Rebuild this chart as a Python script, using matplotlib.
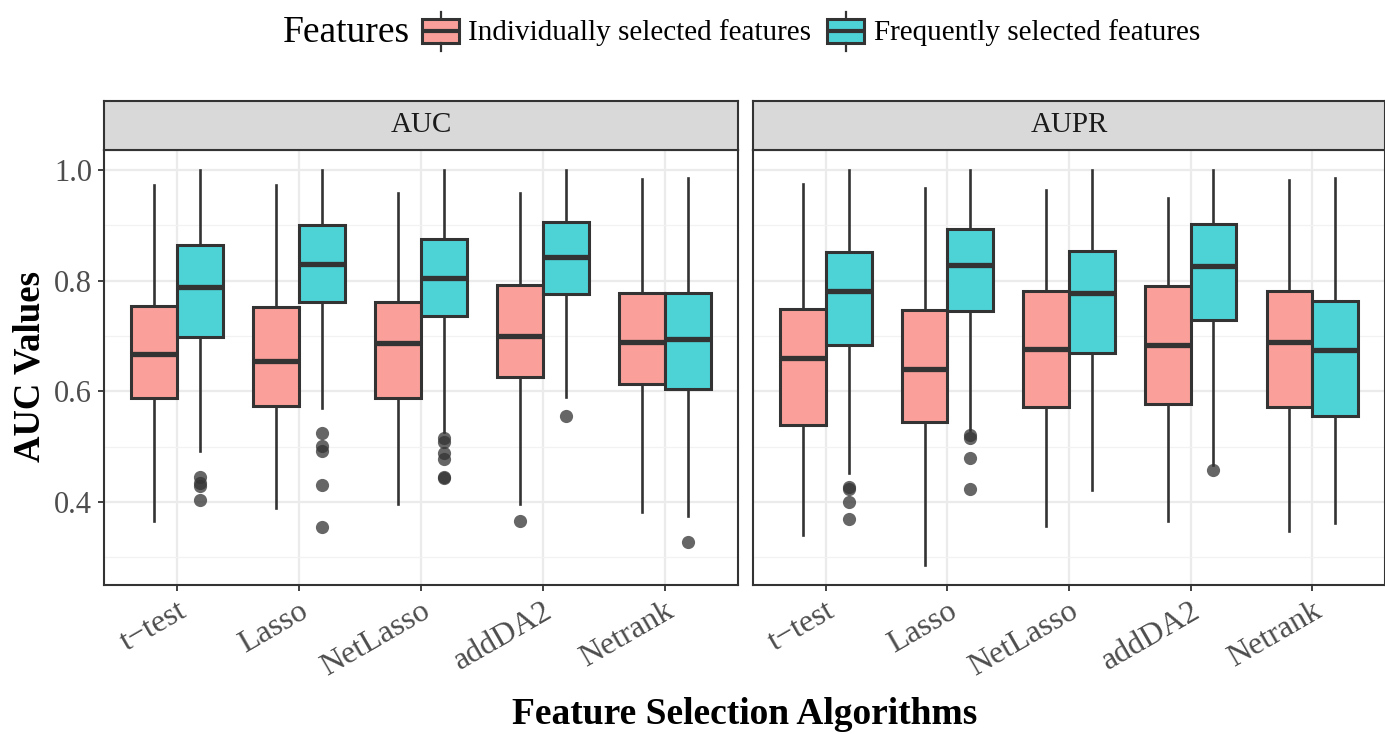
import matplotlib
matplotlib.use("Agg")
import matplotlib.pyplot as plt
from matplotlib.patches import Rectangle
from matplotlib.ticker import FixedLocator

plt.rcParams['font.family'] = ['Liberation Serif', 'DejaVu Serif']

algorithms = ["t\u2212test", "Lasso", "NetLasso", "addDA2", "Netrank"]
groups = ["Individually selected features", "Frequently selected features"]
metrics = ["AUC", "AUPR"]

# per metric, per group: lists over algorithms of (whislo, q1, med, q3, whishi)
auc_individual = [
    (0.365, 0.587, 0.668, 0.755, 0.973),
    (0.389, 0.574, 0.654, 0.753, 0.973),
    (0.397, 0.587, 0.687, 0.762, 0.959),
    (0.397, 0.625, 0.700, 0.792, 0.959),
    (0.382, 0.613, 0.689, 0.777, 0.984),
]
auc_frequent = [
    (0.493, 0.699, 0.788, 0.865, 1.000),
    (0.569, 0.762, 0.830, 0.901, 1.000),
    (0.527, 0.736, 0.804, 0.875, 1.000),
    (0.589, 0.776, 0.842, 0.906, 1.000),
    (0.375, 0.604, 0.695, 0.778, 0.986),
]
aupr_individual = [
    (0.341, 0.539, 0.660, 0.748, 0.974),
    (0.286, 0.545, 0.640, 0.747, 0.968),
    (0.357, 0.572, 0.676, 0.782, 0.964),
    (0.365, 0.577, 0.683, 0.791, 0.949),
    (0.348, 0.571, 0.689, 0.782, 0.981),
]
aupr_frequent = [
    (0.452, 0.683, 0.781, 0.852, 1.000),
    (0.530, 0.745, 0.828, 0.893, 1.000),
    (0.422, 0.669, 0.777, 0.854, 1.000),
    (0.467, 0.729, 0.827, 0.902, 1.000),
    (0.362, 0.556, 0.675, 0.763, 0.985),
]
auc_individual_out = [[], [], [], [0.365], []]
auc_frequent_out = [[0.445, 0.435, 0.428, 0.403],
                    [0.524, 0.501, 0.493, 0.430, 0.354],
                    [0.515, 0.508, 0.488, 0.477, 0.445, 0.443],
                    [0.556],
                    [0.328]]
aupr_individual_out = [[], [], [], [], []]
aupr_frequent_out = [[0.427, 0.424, 0.400, 0.369],
                     [0.521, 0.516, 0.480, 0.424],
                     [],
                     [0.458],
                     []]

data = {
    "AUC": [(auc_individual, auc_individual_out), (auc_frequent, auc_frequent_out)],
    "AUPR": [(aupr_individual, aupr_individual_out), (aupr_frequent, aupr_frequent_out)],
}

fills = ["#FA9F99", "#4DD2D6"]
edge = "#333333"
W, H = 1385, 734
fig = plt.figure(figsize=(W / 100, H / 100), dpi=100)

def fx(px):
    return px / W

def fy(py):
    return 1 - py / H

panels = [(104, 738), (753, 1385)]
ptop, pbot = 150, 585
strip_top = 101

for m, (x0, x1) in zip(metrics, panels):
    ax = fig.add_axes([fx(x0), fy(pbot), fx(x1 - x0), (pbot - ptop) / H])
    sax = fig.add_axes([fx(x0), fy(ptop), fx(x1 - x0), (ptop - strip_top) / H])
    sax.set_xticks([]); sax.set_yticks([])
    sax.set_facecolor("#D9D9D9")
    for s in sax.spines.values():
        s.set_color(edge); s.set_linewidth(1.5)
    sax.text(0.5, 0.5, m, ha="center", va="center", fontsize=21, color="#1A1A1A",
             transform=sax.transAxes)

    n = len(algorithms)
    for gi, (stats, outs) in enumerate(data[m]):
        bstats = []
        for (lo, q1, med, q3, hi), fl in zip(stats, outs):
            bstats.append(dict(whislo=lo, q1=q1, med=med, q3=q3, whishi=hi, fliers=fl))
        off = -0.1875 if gi == 0 else 0.1875
        ax.bxp(bstats, positions=[i + 1 + off for i in range(n)], widths=0.375,
               showcaps=False, patch_artist=True,
               boxprops=dict(facecolor=fills[gi], edgecolor=edge, linewidth=2.2),
               medianprops=dict(color=edge, linewidth=3.8, solid_capstyle="butt"),
               whiskerprops=dict(color=edge, linewidth=1.9),
               flierprops=dict(marker="o", markersize=9.5, markerfacecolor=edge,
                               markeredgecolor="none", alpha=0.75),
               zorder=3)

    ax.set_xlim(0.4, n + 0.6)
    ax.set_ylim(0.250, 1.036)
    ax.set_xticks(range(1, n + 1))
    ax.set_xticklabels(algorithms, rotation=30, ha="right", va="top",
                       rotation_mode="anchor", fontsize=23, color="#4D4D4D")
    ax.yaxis.set_major_locator(FixedLocator([0.4, 0.6, 0.8, 1.0]))
    ax.yaxis.set_minor_locator(FixedLocator([0.3, 0.5, 0.7, 0.9]))
    if m == "AUC":
        ax.set_yticklabels(["0.4", "0.6", "0.8", "1.0"], fontsize=22, color="#4D4D4D")
    else:
        ax.set_yticklabels([])
    ax.tick_params(axis="both", which="major", length=4.5, width=1.3, color=edge, pad=4)
    ax.tick_params(axis="y", which="minor", length=0)
    if m == "AUPR":
        ax.tick_params(axis="y", which="major", length=0)
    ax.grid(True, which="major", color="#EBEBEB", linewidth=1.6, zorder=0)
    ax.grid(True, which="minor", axis="y", color="#F2F2F2", linewidth=0.9, zorder=0)
    ax.set_axisbelow(True)
    for s in ax.spines.values():
        s.set_color(edge); s.set_linewidth(1.5)

fig.text(fx(30), fy(367), "AUC Values", rotation=90, ha="center", va="center",
         fontsize=26.5, fontweight="bold", color="black")
fig.text(fx(745), fy(714), "Feature Selection Algorithms", ha="center", va="center",
         fontsize=27, fontweight="bold", color="black")

# legend drawn in pixel coordinates
lax = fig.add_axes([0, 0, 1, 1])
lax.set_xlim(0, W); lax.set_ylim(H, 0); lax.axis("off")
lax.text(283, 33, "Features", ha="left", va="center", fontsize=27, color="black")
for gi, (kx, tx) in enumerate([(422, 468), (827, 874)]):
    cx = kx + 18.5
    lax.plot([cx, cx], [12, 19], color=edge, lw=1.6)
    lax.plot([cx, cx], [43, 51], color=edge, lw=1.6)
    lax.add_patch(Rectangle((kx, 19), 37, 24, facecolor=fills[gi], edgecolor=edge, lw=2.2))
    lax.plot([kx, kx + 37], [31, 31], color=edge, lw=3.0, solid_capstyle="butt")
    lax.text(tx, 33, groups[gi], ha="left", va="center", fontsize=21, color="black")

fig.savefig("out.png", dpi=100)
